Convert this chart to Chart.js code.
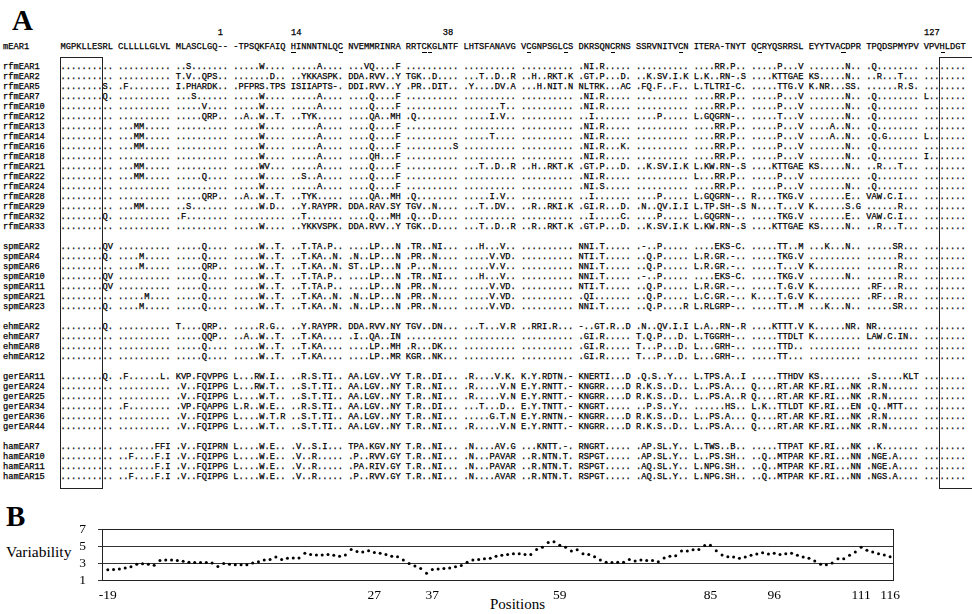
<!DOCTYPE html>
<html>
<head>
<meta charset="utf-8">
<script src="https://cdn.jsdelivr.net/npm/chart.js@4.4.1/dist/chart.umd.min.js"></script>
<style>
    body { margin: 0; background: #fff; }
    .page { position: relative; width: 972px; height: 614px; overflow: hidden; background: #fff; }
    .panel-label { position: absolute; font-family: "Liberation Serif", serif; font-weight: bold; font-size: 29px; line-height: 1; color: #000; }
    .mono {
        position: absolute; left: 3px; margin: 0;
        font-family: "Liberation Mono", monospace; font-size: 8.727px; line-height: 10px;
        color: #000; white-space: pre; -webkit-text-stroke: 0.25px #000;
    }
    .uline { position: absolute; height: 1px; background: #000; }
    .box { position: absolute; border: 1.3px solid #222; box-sizing: border-box; }
    .axis-text { position: absolute; font-family: "Liberation Serif", serif; color: #000; white-space: nowrap; }
    .chart-wrap { position: absolute; left: 0; top: 500px; width: 972px; height: 114px; }
</style>
</head>
<body>
<div class="page" id="page">
    <div class="panel-label" style="left:12px; top:6px;">A</div>
    <pre id="header" class="mono" style="top:28px;"></pre>
    <pre id="alignment" class="mono" style="top:42px;"></pre>
    <div class="box" style="left:60px; top:57px; width:43px; height:432px;"></div>
    <div class="box" style="left:939px; top:57px; width:60px; height:432px;"></div>

    <div class="panel-label" style="left:6px; top:502px;">B</div>
    <div class="axis-text" style="left:6px; top:543px; font-size:15.5px;">Variability</div>
    <div class="axis-text" style="left:490px; top:596px; font-size:15px;">Positions</div>
    <div class="chart-wrap"><canvas id="varChart"></canvas></div>
</div>

<script>
// Panel B data: variability per alignment position
const positions = [
    -19, -18, -17, -16, -15, -14, -13, -12, -11, -10,
    -9, -8, -7, -6, -5, -4, -3, -2, -1, 0,
    1, 2, 3, 4, 5, 6, 7, 8, 9, 10,
    11, 12, 13, 14, 15, 16, 17, 18, 19, 20,
    21, 22, 23, 24, 25, 26, 27, 28, 29, 30,
    31, 32, 33, 34, 35, 36, 37, 38, 39, 40,
    41, 42, 43, 44, 45, 46, 47, 48, 49, 50,
    51, 52, 53, 54, 55, 56, 57, 58, 59, 60,
    61, 62, 63, 64, 65, 66, 67, 68, 69, 70,
    71, 72, 73, 74, 75, 76, 77, 78, 79, 80,
    81, 82, 83, 84, 85, 86, 87, 88, 89, 90,
    91, 92, 93, 94, 95, 96, 97, 98, 99, 100,
    101, 102, 103, 104, 105, 106, 107, 108, 109, 110,
    111, 112, 113, 114, 115, 116
];
const variability = [
    2.2, 2.25, 2.3, 2.4, 2.55, 2.85, 2.9, 2.85, 2.75, 3.3,
    3.35, 3.35, 3.3, 3.2, 3.1, 3.05, 3.05, 3.05, 3.0, 2.6,
    2.95, 2.85, 2.8, 2.8, 2.8, 3.0, 3.15, 3.35, 3.4, 3.7,
    3.4, 3.55, 3.6, 3.6, 4.15, 4.0, 3.95, 3.95, 4.0, 3.9,
    3.8, 3.95, 4.6, 4.35, 4.3, 4.45, 4.25, 4.15, 4.0, 3.8,
    3.75, 3.35, 2.95, 2.65, 2.35, 1.8, 2.25, 2.3, 2.35, 2.4,
    2.55, 2.7, 3.1, 3.35, 3.4, 3.5, 3.55, 3.8, 3.9, 4.0,
    4.1, 4.1, 4.0, 4.0, 4.6, 4.85, 5.4, 5.5, 5.1, 4.85,
    4.4, 4.55, 4.1, 4.0, 3.75, 3.35, 3.1, 3.05, 3.1, 3.1,
    3.4, 3.25, 3.35, 3.3, 3.3, 3.15, 3.6, 3.8, 3.85, 4.4,
    4.4, 4.55, 4.6, 5.05, 5.1, 4.45, 3.95, 3.75, 3.7, 3.55,
    3.7, 3.9, 4.05, 4.2, 4.05, 4.15, 4.0, 4.1, 4.15, 3.9,
    3.7, 3.55, 3.25, 2.85, 2.8, 3.0, 3.5, 3.5, 3.9, 4.3,
    4.85, 4.5, 4.3, 4.1, 3.95, 3.75
];
const xTickLabels = [-19, 27, 37, 59, 85, 96, 111, 116];
const yTickLabels = [1, 3, 5, 7];

// Panel A: reference sequence, its underlined residues [block, index] and the numbered columns
const refSequence = 'MGPKLLESRL CLLLLLGLVL MLASCLGQ-- -TPSQKFAIQ HINNNTNLQC NVEMMRINRA RRTCKGLNTF LHTSFANAVG ' +
    'VCGNPSGLCS DKRSQNCRNS SSRVNITVCN ITERA-TNYT QCRYQSRRSL EYYTVACDPR TPQDSPMYPV VPVHLDGT';
const underlined = [[4, 0], [4, 9], [6, 3], [6, 4], [8, 1], [8, 8], [9, 6], [10, 8], [12, 1], [13, 6], [15, 3]];
const headerMarks = [[41, '1'], [55, '14'], [84, '38'], [176, '127']];

// alignment rows (blocks of 10 residues, unlisted blocks are all dots)
const alignmentRows = [
    ['rfmEAR1', {3:'..S.......', 4:'.....W....', 5:'.....A....', 6:'...VQ....F', 10:'.NI.R.....', 12:'....RR.P..', 13:'.....P...V', 14:'.......N..', 15:'.Q........'}],
    ['rfmEAR2', {3:'T.V..QPS..', 4:'.......D..', 5:'..YKKASPK.', 6:'DDA.RVV..Y', 7:'TGK..D....', 8:'...T..D..R', 9:'..H..RKT.K', 10:'.GT.P...D.', 11:'..K.SV.I.K', 12:'L.K..RN-.S', 13:'....KTTGAE', 14:'KS.....N..', 15:'..R...T...'}],
    ['rfmEAR5', {1:'........S.', 2:'.F........', 3:'I.PHARDK..', 4:'.PFPRS.TPS', 5:'ISIIAPTS-.', 6:'DDI.RVV..Y', 7:'.PR..DIT..', 8:'.Y....DV.A', 9:'...H.NIT.N', 10:'NLTRK...AC', 11:'.FQ.F..F..', 12:'L.TLTRI-C.', 13:'.....TTG.V', 14:'K.NR...SS.', 15:'......R.S.'}],
    ['rfmEAR7', {1:'........Q.', 3:'...S......', 4:'.....W....', 5:'.....A....', 6:'....Q....F', 10:'.NI.R.....', 12:'....RR.P..', 13:'.....P...V', 14:'.......N..', 15:'.Q........', 16:'L.......'}],
    ['rfmEAR10', {3:'.....V....', 4:'.....W....', 5:'.....A....', 6:'....Q....F', 8:'.......T..', 10:'.NI.R.....', 12:'....RR.P..', 13:'.....P...V', 14:'.......N..', 15:'.Q........'}],
    ['rfmEAR12', {3:'.....QRP..', 4:'..A..W..T.', 5:'..TYK.....', 6:'....QA..MH', 7:'.Q........', 8:'.....I.V..', 10:'..I.......', 11:'....P.....', 12:'L.GQGRN-..', 13:'.....T...V', 14:'.......N..', 15:'.Q........'}],
    ['rfmEAR13', {2:'...MM.....', 4:'.....W....', 5:'.....A....', 6:'....Q....F', 10:'.NI.R.....', 12:'....RR.P..', 13:'.....P...V', 14:'....A..N..', 15:'.Q........'}],
    ['rfmEAR14', {2:'...MM.....', 4:'.....W....', 5:'.....A....', 6:'....Q....F', 8:'.....T....', 10:'.NI.R.....', 12:'....RR.P..', 13:'.....P...V', 14:'....A..N..', 15:'.Q.G......', 16:'L.......'}],
    ['rfmEAR16', {2:'...MM.....', 4:'.....W....', 5:'.....A....', 6:'....Q....F', 7:'.........S', 10:'.NI.R...K.', 12:'....RR.P..', 13:'.....P...V', 14:'.......N..', 15:'.Q........'}],
    ['rfmEAR18', {4:'.....W....', 5:'.....A....', 6:'....QH...F', 10:'.NI.R.....', 12:'....RR.P..', 13:'.....P...V', 14:'.......N..', 15:'.Q........', 16:'I.......'}],
    ['rfmEAR21', {2:'...MM.....', 4:'.....WV...', 5:'.....A....', 6:'....Q....F', 8:'...T..D..R', 9:'..H..RKT.K', 10:'.GT.P...D.', 11:'..K.SV.I.K', 12:'L.KW.RN-.S', 13:'....KTTGAE', 14:'KS.....N..', 15:'..R...T...'}],
    ['rfmEAR22', {2:'...MM.....', 3:'.....Q....', 4:'.....W....', 5:'..S..A....', 6:'....Q....F', 10:'.NI.R.....', 12:'L...RR.P..', 13:'.....P...V', 15:'.Q........'}],
    ['rfmEAR24', {4:'.....W....', 5:'.....A....', 6:'....Q....F', 10:'.NI.S.....', 12:'....RR.P..', 13:'.....P...V', 14:'.......N..', 15:'.Q........'}],
    ['rfmEAR28', {3:'.....QRP..', 4:'..A..W..T.', 5:'..TYK.....', 6:'....QA..MH', 7:'.Q........', 8:'.....I.V..', 10:'..I.......', 11:'....P.....', 12:'L.GQGRN-..', 13:'R....TKG.V', 14:'.......E..', 15:'VAW.C.I...'}],
    ['rfmEAR29', {2:'...MM.....', 3:'..S.......', 4:'.....W.D..', 5:'..Y.RAYPR.', 6:'DDA.RAV.SY', 7:'TGV..N....', 8:'...T..DV..', 9:'..R..RKI.K', 10:'.GI.R...D.', 11:'.N..QV.I.I', 12:'L.TP.SH-.S', 13:'N....T...V', 14:'K......S.G', 15:'......R...'}],
    ['rfmEAR32', {1:'........Q.', 3:'.F........', 5:'..T.......', 6:'....Q...MH', 7:'.Q...D....', 10:'..I.....C.', 11:'....P.....', 12:'L.GQGRN-..', 13:'.....TKG.V', 14:'.......E..', 15:'VAW.C.I...'}],
    ['rfmEAR33', {4:'.....W....', 5:'..YKKVSPK.', 6:'DDA.RVV..Y', 7:'TGK..D....', 8:'...T..D..R', 9:'..R..RKT.K', 10:'.GT.P...D.', 11:'..K.SV.I.K', 12:'L.KW.RN-.S', 13:'....KTTGAE', 14:'KS.....N..', 15:'..R...T...'}],
    null,
    ['spmEAR2', {1:'........QV', 3:'.....Q....', 4:'.....W..T.', 5:'..T.TA.P..', 6:'....LP...N', 7:'.TR..NI...', 8:'...H...V..', 10:'NNI.T.....', 11:'.-..P.....', 12:'....EKS-C.', 13:'.....TT..M', 14:'...K...N..', 15:'.....SR...'}],
    ['spmEAR4', {1:'........Q.', 2:'....M.....', 3:'.....Q....', 4:'.....W..T.', 5:'..T.KA..N.', 6:'.N..LP...N', 7:'.PR..N....', 8:'.....V.VD.', 10:'NTI.T.....', 11:'..Q.P.....', 12:'L.R.GR.-..', 13:'.....TKG.V', 15:'......R...'}],
    ['spmEAR6', {2:'....M.....', 3:'.....QRP..', 4:'.....W..T.', 5:'..T.KA..N.', 6:'ST..LP...N', 7:'.P...N....', 8:'.....V.V..', 10:'NNI.T.....', 11:'..Q.P.....', 12:'L.R.GR.-..', 13:'.....T...V', 14:'K.........', 15:'......R...'}],
    ['spmEAR10', {1:'........QV', 3:'.....Q....', 4:'.....W..T.', 5:'..T.TA.P..', 6:'....LP...N', 7:'.TR..NI...', 8:'...H...V..', 10:'NNI.T.....', 11:'.-..P.....', 12:'....EKS-C.', 13:'.....TKG.V', 14:'.......N..', 15:'......R...'}],
    ['spmEAR11', {1:'........QV', 3:'.....Q....', 4:'.....W..T.', 5:'..T.TA.P..', 6:'....LP...N', 7:'.PR..N....', 8:'.....V.VD.', 10:'NTI.T.....', 11:'..Q.P.....', 12:'L.R.GR.-..', 13:'.....T.G.V', 14:'K.........', 15:'.RF...R...'}],
    ['spmEAR21', {2:'.....M....', 3:'.....Q....', 4:'.....W..T.', 5:'..T.KA..N.', 6:'.N..LP...N', 7:'.PR..N....', 8:'.....V.VD.', 10:'.QI.......', 11:'..Q.P.....', 12:'L.C.GR.-..', 13:'K....T.G.V', 14:'K.........', 15:'.RF...R...'}],
    ['spmEAR23', {1:'........Q.', 2:'....M.....', 3:'.....Q....', 4:'.....W..T.', 5:'..T.KA..N.', 6:'.N..LP...N', 7:'.PR..N....', 8:'.....V.VD.', 10:'NNI.T.....', 11:'..Q.P....R', 12:'L.RLGRP-..', 13:'.....TT..M', 14:'...K...N..', 15:'.....SR...'}],
    null,
    ['ehmEAR2', {1:'........Q.', 3:'T....QRP..', 4:'.....R.G..', 5:'..Y.RAYPR.', 6:'DDA.RVV.NY', 7:'TGV..DN...', 8:'...T...V.R', 9:'..RRI.R...', 10:'-..GT.R..D', 11:'.N..QV.I.I', 12:'L.A..RN-.R', 13:'....KTTT.V', 14:'K......NR.', 15:'NR........'}],
    ['ehmEAR7', {3:'.....QQP..', 4:'..A..W..T.', 5:'..T.KA....', 6:'.I..QA..IN', 10:'.GI.R.....', 11:'T.Q.P...D.', 12:'L.TGGRH-..', 13:'.....TTDLT', 14:'K.........', 15:'LAW.C.IN..'}],
    ['ehmEAR8', {3:'.....Q....', 4:'.....W..T.', 5:'..T.KA....', 6:'....LP..MH', 7:'.R...DK...', 10:'.GI.R.....', 11:'T...P...D.', 12:'L...GRH-..', 13:'.....TTD..'}],
    ['ehmEAR12', {3:'.....Q....', 4:'.....W..T.', 5:'..T.KA....', 6:'....LP..MR', 7:'KGR..NK...', 10:'.GI.R.....', 11:'T...P...D.', 12:'L...GRH-..', 13:'.....TT...'}],
    null,
    ['gerEAR11', {1:'........Q.', 2:'.F......L.', 3:'KVP.FQVPPG', 4:'L...RW.I..', 5:'..R.S.TI..', 6:'AA.LGV..VY', 7:'T.R..DI...', 8:'.R....V.K.', 9:'K.Y.RDTN.-', 10:'KNERTI...D', 11:'.Q.S..Y...', 12:'L.TPS.A..I', 13:'.....TTHDV', 14:'KS........', 15:'.S.....KLT'}],
    ['gerEAR24', {3:'.V..FQIPPG', 4:'L...RW.T..', 5:'..S.T.TI..', 6:'AA.LGV..NY', 7:'T.R..NI...', 8:'.R.....V.N', 9:'E.Y.RNTT.-', 10:'KNGRR....D', 11:'R.K.S..D..', 12:'L..PS.A...', 13:'Q....RT.AR', 14:'KF.RI...NK', 15:'.R.N......'}],
    ['gerEAR25', {3:'.V..FQIPPG', 4:'L....W.T..', 5:'..S.T.TI..', 6:'AA.LGV..NY', 7:'T.R..NI...', 8:'.R.....V.N', 9:'E.Y.RNTT.-', 10:'KNGRR....D', 11:'R.K.S..D..', 12:'L..PS.A..R', 13:'Q....RT.AR', 14:'KF.RI...NK', 15:'.R.N......'}],
    ['gerEAR34', {2:'.F........', 3:'.VP.FQAPPG', 4:'L.R..W.E..', 5:'..R.S.TI..', 6:'AA.LGV..NY', 7:'T.R..DI...', 8:'...T...D..', 9:'E.Y.TNTT.-', 10:'KNGRT.....', 11:'..P.S..Y..', 12:'......HS..', 13:'L.K..TTLDT', 14:'KF.RI...EN', 15:'.Q..MTT...'}],
    ['gerEAR36', {3:'.V..FQIPPG', 4:'L....W.T.R', 5:'..S.T.TI..', 6:'AA.LGV..NY', 7:'T.R..NI...', 8:'.....G.T.N', 9:'E.Y.RNTN.-', 10:'KNGRR....D', 11:'R.K.S..D..', 12:'L..PS.A...', 13:'Q....RT.AR', 14:'KF.RI...NK', 15:'.R.N......'}],
    ['gerEAR44', {3:'.V..FQIPPG', 4:'L....W.T..', 5:'..S.T.TI..', 6:'AA.LGV..NY', 7:'T.R..NI...', 8:'.R.....V.N', 9:'E.Y.RNTT.-', 10:'KNGRR....D', 11:'R.K.S..D..', 12:'L..PS.A...', 13:'Q....RT.AR', 14:'KF.RI...NK', 15:'.R.N......'}],
    null,
    ['hamEAR7', {2:'.......FFI', 3:'.V..FQIPRN', 4:'L....W.E..', 5:'.V..S.I...', 6:'TPA.KGV.NY', 7:'T.R..NI...', 8:'.N....AV.G', 9:'...KNTT.-.', 10:'RNGRT.....', 11:'.AP.SL.Y..', 12:'L.TWS..B..', 13:'.....TTPAT', 14:'KF.RI...NK', 15:'..K.......'}],
    ['hamEAR10', {2:'..F....F.I', 3:'.V..FQIPPG', 4:'L....W.E..', 5:'.V..R.....', 6:'.P..RVV.GY', 7:'T.R..NI...', 8:'.N...PAVAR', 9:'..R.NTN.T.', 10:'RSPGT.....', 11:'.AP.SL.Y..', 12:'L..PS.SH..', 13:'..Q..MTPAR', 14:'KF.RI...NN', 15:'.NGE.A....'}],
    ['hamEAR11', {2:'.......F.I', 3:'.V..FQIPPG', 4:'L....W.E..', 5:'.V..R.....', 6:'.PA.RIV.GY', 7:'T.R..NI...', 8:'.N...PAVAR', 9:'..R.NTN.T.', 10:'RSPGT.....', 11:'.AQ.SL.Y..', 12:'L.NPG.SH..', 13:'..Q..MTPAR', 14:'KF.RI...NN', 15:'.NGE.A....'}],
    ['hamEAR15', {2:'..F....F.I', 3:'.V..FQIPPG', 4:'L....W.E..', 5:'.V..R.....', 6:'.P..RVV.GY', 7:'T.R..NI...', 8:'.N....AVAR', 9:'..R.NTN.T.', 10:'RSPGT.....', 11:'.AQ.SL.Y..', 12:'L.NPG.SH..', 13:'..Q..MTPAR', 14:'KF.RI...NN', 15:'.NGS.A....'}]
];

document.addEventListener('DOMContentLoaded', function() {
    buildAlignment();
    buildVariabilityChart();
});

// Build the text alignment of panel A
function buildAlignment() {
    const nameWidth = 11;
    const charWidth = 8.727 * 0.6;

    // column numbers, the line starts at the first numbered column
    const firstCol = headerMarks[0][0];
    let header = '';
    headerMarks.forEach(mark => {
        header = header.padEnd(mark[0] - firstCol, ' ') + mark[1];
    });
    const headerEl = document.getElementById('header');
    headerEl.textContent = header;
    headerEl.style.left = (3 + firstCol * charWidth) + 'px';

    const lines = ['mEAR1'.padEnd(nameWidth, ' ') + refSequence, ''];
    alignmentRows.forEach(row => {
        if (!row) { lines.push(''); return; }
        const blocks = [];
        for (let b = 1; b <= 16; b++) {
            const len = b === 16 ? 8 : 10;
            const text = row[1][b] || '';
            blocks.push(text.padEnd(len, '.').slice(0, len));
        }
        lines.push(row[0].padEnd(nameWidth, ' ') + blocks.join(' '));
    });
    document.getElementById('alignment').textContent = lines.join('\n');

    // underline marks under the cysteines / histidines of mEAR1
    const page = document.getElementById('page');
    underlined.forEach(([block, idx]) => {
        const col = nameWidth + block * 11 + idx;
        const mark = document.createElement('div');
        mark.className = 'uline';
        mark.style.left = (3 + col * charWidth + 0.5) + 'px';
        mark.style.top = '51.5px';
        mark.style.width = (charWidth - 1) + 'px';
        page.appendChild(mark);
    });
}

// Frame around the plot area
const framePlugin = {
    id: 'frame',
    afterDraw(chart) {
        const a = chart.chartArea;
        const ctx = chart.ctx;
        ctx.save();
        ctx.strokeStyle = '#222';
        ctx.lineWidth = 1;
        ctx.strokeRect(Math.round(a.left) + 0.5, Math.round(a.top) + 0.5,
            Math.round(a.right - a.left), Math.round(a.bottom - a.top));
        ctx.restore();
    }
};

// Panel B: variability plot
function buildVariabilityChart() {
    const ctx = document.getElementById('varChart').getContext('2d');
    new Chart(ctx, {
        type: 'line',
        data: {
            labels: positions,
            datasets: [{
                data: positions.map((p, i) => ({ x: p, y: variability[i] })),
                showLine: false,
                pointRadius: 1.5,
                pointHoverRadius: 1.5,
                pointBackgroundColor: '#000',
                pointBorderWidth: 0
            }]
        },
        options: {
            responsive: true,
            maintainAspectRatio: false,
            animation: false,
            layout: { padding: { top: 29, right: 79, left: 0, bottom: 0 } },
            plugins: { legend: { display: false }, tooltip: { enabled: false } },
            scales: {
                x: {
                    type: 'linear',
                    min: -20,
                    max: 116.5,
                    afterBuildTicks: axis => { axis.ticks = xTickLabels.map(v => ({ value: v })); },
                    afterFit: axis => { axis.height = 34; },
                    grid: { display: false, drawTicks: false },
                    border: { display: false },
                    ticks: {
                        autoSkip: false,
                        maxRotation: 0,
                        padding: 7,
                        color: '#000',
                        font: { family: 'Liberation Serif', size: 13.5 }
                    }
                },
                y: {
                    min: 1,
                    max: 7,
                    afterBuildTicks: axis => { axis.ticks = yTickLabels.map(v => ({ value: v })); },
                    afterFit: axis => { axis.width = 102; },
                    grid: { color: '#333', lineWidth: 1, tickLength: 4 },
                    border: { display: true, color: '#222' },
                    ticks: {
                        autoSkip: false,
                        padding: 12,
                        color: '#000',
                        font: { family: 'Liberation Serif', size: 13.5 }
                    }
                }
            }
        },
        plugins: [framePlugin]
    });
}
</script>
</body>
</html>
